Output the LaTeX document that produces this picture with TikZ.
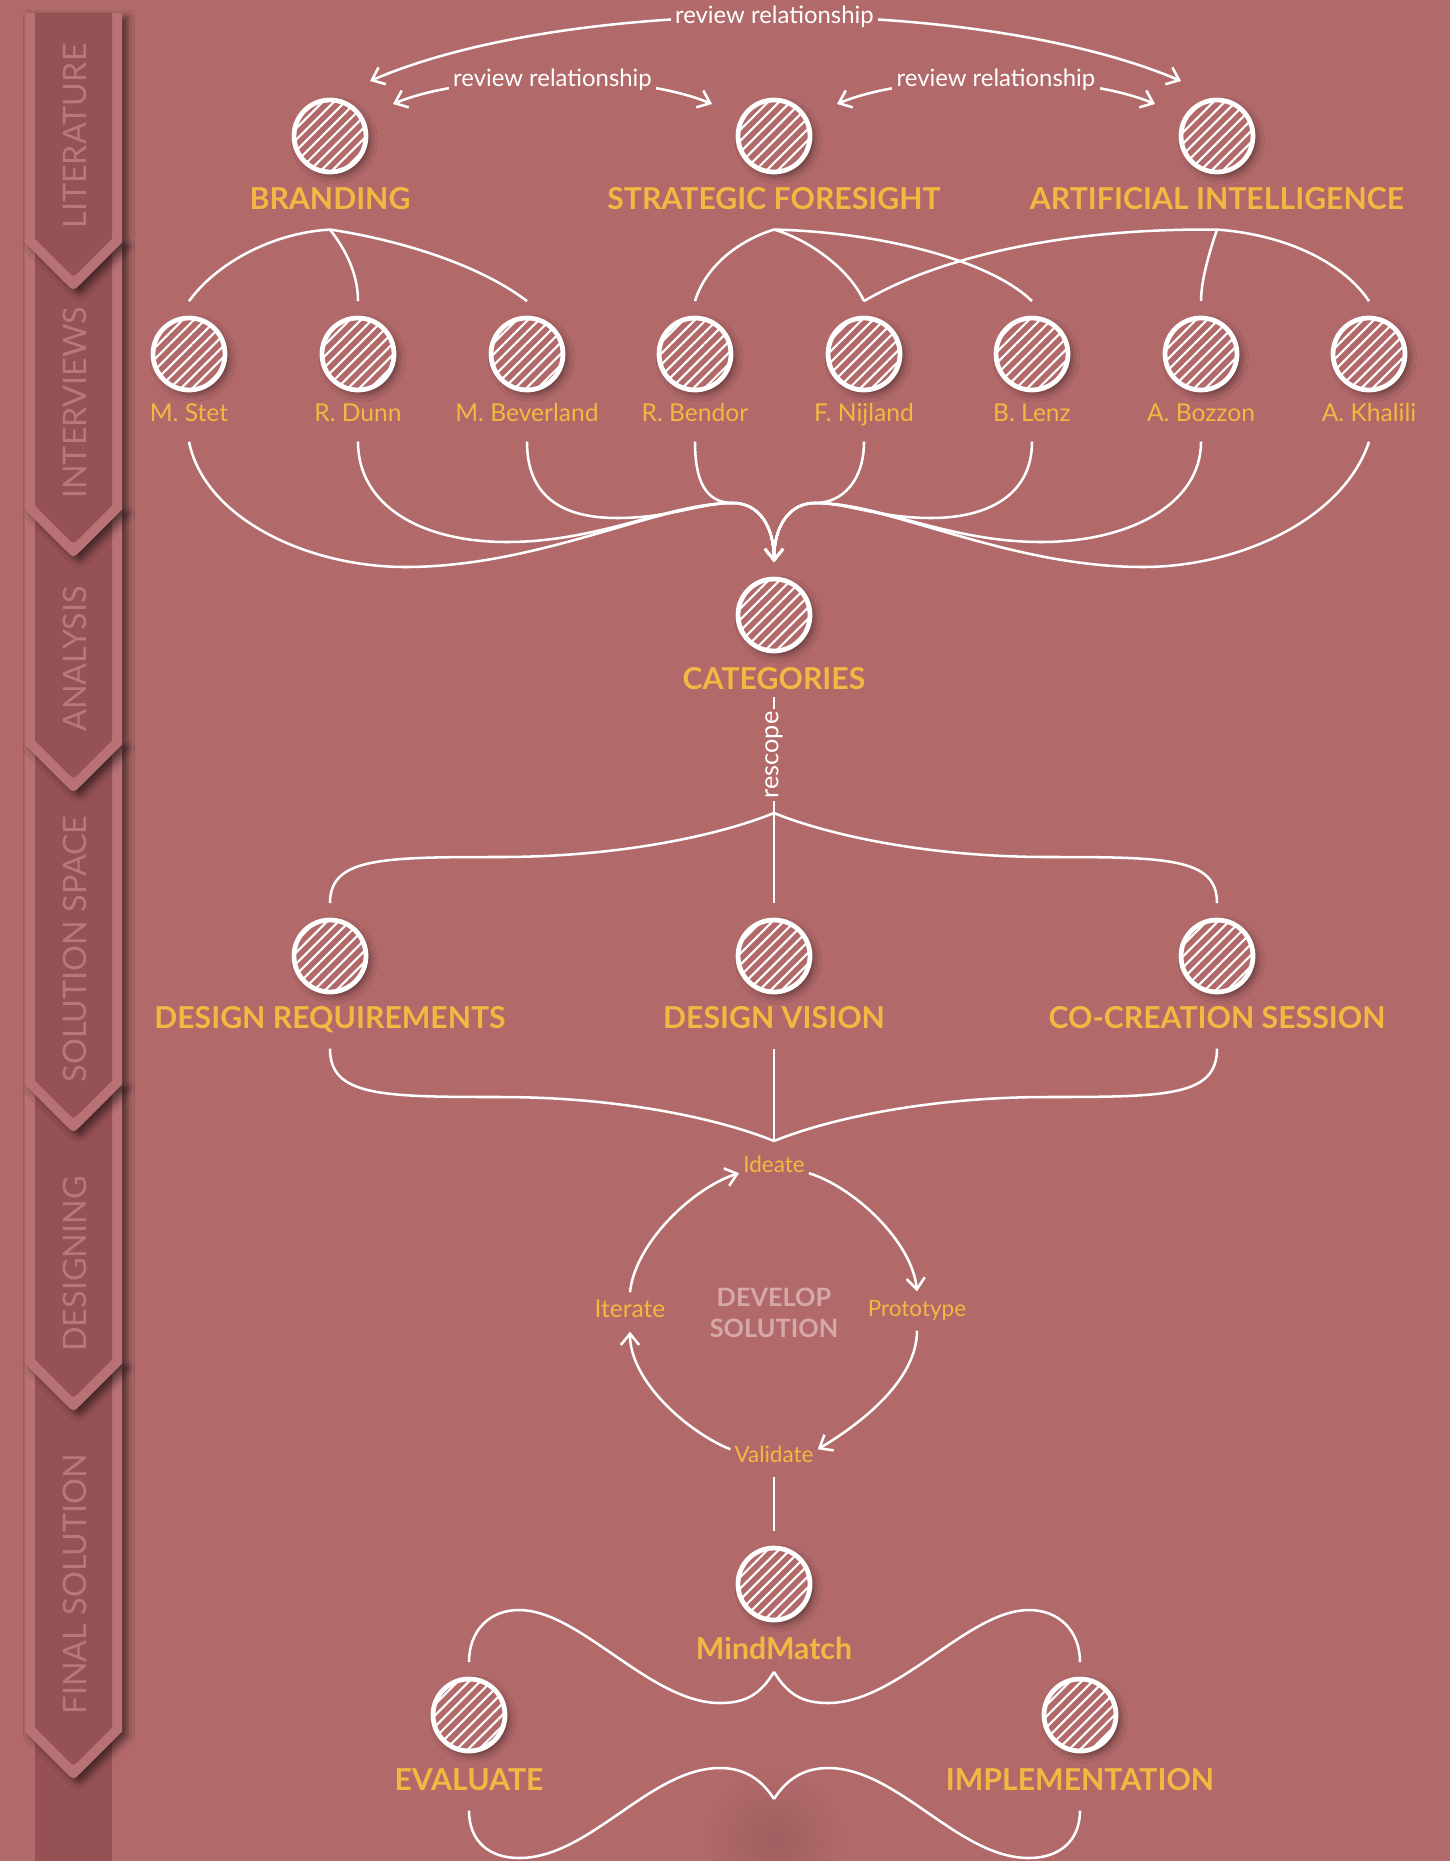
\documentclass[tikz,border=0pt]{standalone}
\usepackage{fontspec}
\setmainfont{Lato}
\usetikzlibrary{arrows.meta, calc, patterns.meta, shadows.blur}
\definecolor{rosebg}{RGB}{177,105,106}
\definecolor{gold}{RGB}{244,184,66}
\definecolor{railfill}{RGB}{150,81,84}
\definecolor{railedge}{RGB}{184,113,116}
\definecolor{railtext}{RGB}{186,118,121}
\definecolor{hubtext}{RGB}{214,168,168}

\tikzset{
  topic/.style={circle, minimum size=18mm, inner sep=0pt, outer sep=12pt,
    draw=white, line width=3.4pt,
    blur shadow={shadow xshift=3pt, shadow yshift=-3pt, shadow blur radius=5pt, shadow opacity=45},
    preaction={fill=rosebg},
    pattern={Lines[angle=45, distance=5.6pt, line width=1.5pt]}, pattern color=white},
  headline/.style={text=gold, font=\bfseries\fontsize{21.5}{24}\selectfont,
    inner sep=0pt, text height=15.5pt, text depth=0pt, outer ysep=14pt},
  person/.style={text=gold, font=\fontsize{17.5}{20}\selectfont,
    inner sep=0pt, text height=13pt, text depth=4pt, outer ysep=10.5pt},
  phase/.style={text=gold, font=\fontsize{16}{19}\selectfont,
    inner sep=0pt, text height=11.5pt, text depth=3.5pt, outer xsep=3pt, outer ysep=6.5pt},
  hub/.style={text=hubtext, font=\bfseries\fontsize{18}{22.5}\selectfont, align=center, inner sep=0pt},
  review/.style={fill=rosebg, text=white, font=\fontsize{17}{20}\selectfont, inner sep=3pt},
  link/.style={draw=white, line width=1.8pt},
  into/.style={-{Straight Barb[length=8pt, width=13pt]}},
  both/.style={{Straight Barb[length=8pt, width=13pt]}-{Straight Barb[length=8pt, width=13pt]}},
}

\begin{document}
\begin{tikzpicture}[x=0.25mm, y=-0.25mm]
  \fill[rosebg] (0,0) rectangle (1450,1861);
  \useasboundingbox (0,0) rectangle (1450,1861);

  % stage rail on the left, drawn bottom-up so each arrow overlaps the next
  \fill[railfill] (35,1730) rectangle (112,1861);
  \foreach \n/\ya/\yb/\lbl/\yc in {
    6/1363/1780/{FINAL SOLUTION}/1584,
    5/1084/1412/{DESIGNING}/1264,
    4/744/1133/{SOLUTION SPACE}/949,
    3/509/793/{ANALYSIS}/659,
    2/242/558/{INTERVIEWS}/403,
    1/13/291/{LITERATURE}/136
  } {
    \fill[railedge, blur shadow={shadow xshift=4pt, shadow yshift=-3pt, shadow blur radius=5pt, shadow opacity=55}]
      (25,\ya) -- (122,\ya) -- (122,\yb-48.5) -- (81,\yb-7.5) .. controls (73.5,\yb) .. (66,\yb-7.5) -- (25,\yb-48.5) -- cycle;
    \fill[railfill] (35,\ya) -- (112,\ya) -- (112,\yb-52.5) -- (79,\yb-19.5) .. controls (73.5,\yb-14) .. (68,\yb-19.5) -- (35,\yb-52.5) -- cycle;
    \node[rotate=90, text=railtext, font=\fontsize{23}{26}\selectfont, inner sep=0pt] (stage\n) at (75,\yc) {\lbl};
  }

  % literature
  \node[topic] (branding) at (330,136) {};
  \node[headline] (branding-l) at (330,199) {BRANDING};
  \node[topic] (foresight) at (774,136) {};
  \node[headline] (foresight-l) at (774,199) {STRATEGIC FORESIGHT};
  \node[topic] (ai) at (1217,136) {};
  \node[headline] (ai-l) at (1217,199) {ARTIFICIAL INTELLIGENCE};

  \draw[link, both] ($(branding)+(40,-55)$) .. controls (570,-5) and (978,-5) .. ($(ai)+(-36,-55)$)
    node[review, pos=0.5] (rev-outer) {review relationship};
  \draw[link, both] ($(branding)+(63,-32)$) .. controls (470,72) and (635,72) .. ($(foresight)+(-62,-32)$)
    node[review, pos=0.5] (rev-left) {review relationship};
  \draw[link, both] ($(foresight)+(63,-32)$) .. controls (914,72) and (1078,72) .. ($(ai)+(-62,-32)$)
    node[review, pos=0.5] (rev-right) {review relationship};

  % interviews
  \foreach \k/\x/\who in {stet/189/M. Stet, dunn/358/R. Dunn, beverland/527/M. Beverland,
      bendor/695/R. Bendor, nijland/864/F. Nijland, lenz/1032/B. Lenz,
      bozzon/1201/A. Bozzon, khalili/1369/A. Khalili} {
    \node[topic] (\k) at (\x,354) {};
    \node[person] (\k-l) at (\x,415) {\who};
  }

  \draw[link] (branding-l.south) .. controls (270,233) and (215,265) .. (stet.north);
  \draw[link] (branding-l.south) .. controls (342,245) and (358,270) .. (dunn.north);
  \draw[link] (branding-l.south) .. controls (400,240) and (480,265) .. (beverland.north);
  \draw[link] (foresight-l.south) .. controls (740,240) and (706,265) .. (bendor.north);
  \draw[link] (foresight-l.south) .. controls (810,240) and (850,270) .. (nijland.north);
  \draw[link] (foresight-l.south) .. controls (880,232) and (990,260) .. (lenz.north);
  \draw[link] (ai-l.south) .. controls (1050,228) and (930,262) .. (nijland.north);
  \draw[link] (ai-l.south) .. controls (1210,250) and (1201,280) .. (bozzon.north);
  \draw[link] (ai-l.south) .. controls (1290,235) and (1345,265) .. (khalili.north);

  % analysis
  \node[topic] (categories) at (774,615) {};
  \node[headline, outer ysep=5pt] (categories-l) at (774,679) {CATEGORIES};

  \draw[link, into] (stet-l.south) .. controls (205,520) and (310,567) .. (405,567)
    .. controls (540,567) and (660,503) .. (733,503) .. controls (758,503) and (774,525) .. (categories.north);
  \draw[link, into] (dunn-l.south) .. controls (358,505) and (420,542) .. (507,542)
    .. controls (600,542) and (670,503) .. (733,503) .. controls (758,503) and (774,525) .. (categories.north);
  \draw[link, into] (beverland-l.south) .. controls (527,495) and (560,518) .. (617,518)
    .. controls (670,518) and (700,503) .. (733,503) .. controls (758,503) and (774,525) .. (categories.north);
  \draw[link, into] (bendor-l.south) .. controls (695,480) and (705,503) .. (733,503)
    .. controls (758,503) and (774,525) .. (categories.north);
  \draw[link, into] (nijland-l.south) .. controls (864,480) and (843,503) .. (815,503)
    .. controls (790,503) and (774,525) .. (categories.north);
  \draw[link, into] (lenz-l.south) .. controls (1032,495) and (988,518) .. (931,518)
    .. controls (878,518) and (848,503) .. (815,503) .. controls (790,503) and (774,525) .. (categories.north);
  \draw[link, into] (bozzon-l.south) .. controls (1201,505) and (1128,542) .. (1041,542)
    .. controls (948,542) and (878,503) .. (815,503) .. controls (790,503) and (774,525) .. (categories.north);
  \draw[link, into] (khalili-l.south) .. controls (1343,520) and (1238,567) .. (1143,567)
    .. controls (1008,567) and (888,503) .. (815,503) .. controls (790,503) and (774,525) .. (categories.north);

  % solution space
  \node[topic] (requirements) at (330,956) {};
  \node[headline] (requirements-l) at (330,1018) {DESIGN REQUIREMENTS};
  \node[topic] (vision) at (774,956) {};
  \node[headline] (vision-l) at (774,1018) {DESIGN VISION};
  \node[topic] (cocreation) at (1217,956) {};
  \node[headline] (cocreation-l) at (1217,1018) {CO-CREATION SESSION};

  \coordinate (rescope) at (774,813);
  \draw[link] (categories-l.south) -- node[review, rotate=90, font=\fontsize{18}{20}\selectfont, inner sep=2pt] (rescope-l) {rescope} (rescope) -- (vision.north);
  \draw[link] (rescope) .. controls (720,835) and (620,857) .. (500,857) .. controls (380,857) and (330,858) .. (requirements.north);
  \draw[link] (rescope) .. controls (828,835) and (928,857) .. (1048,857) .. controls (1168,857) and (1217,858) .. (cocreation.north);

  \coordinate (merge) at (774,1141);
  \draw[link] (requirements-l.south) .. controls (330,1096) and (380,1097) .. (500,1097) .. controls (620,1097) and (720,1119) .. (merge);
  \draw[link] (vision-l.south) -- (merge);
  \draw[link] (cocreation-l.south) .. controls (1217,1096) and (1168,1097) .. (1048,1097) .. controls (928,1097) and (828,1119) .. (merge);

  % designing
  \node[phase] (ideate) at (774,1167) {Ideate};
  \node[phase] (prototype) at (917,1311) {Prototype};
  \node[phase] (validate) at (774,1457) {Validate};
  \node[phase, font=\fontsize{17.5}{19}\selectfont] (iterate) at (630,1312) {Iterate};
  \node[hub] (develop) at (774,1313) {DEVELOP\\SOLUTION};

  \draw[link, into] (iterate.north) .. controls +(5,-50) and +(-45,14) .. (ideate.190);
  \draw[link, into] (ideate.350) .. controls +(45,14) and +(-5,-50) .. (prototype.north);
  \draw[link, into] (prototype.south) .. controls +(0,50) and +(42,-25) .. (validate.10);
  \draw[link, into] (validate.170) .. controls +(-42,-17) and +(0,50) .. (iterate.south);

  % final solution
  \node[topic] (mindmatch) at (774,1584) {};
  \node[headline, outer ysep=8.5pt] (mindmatch-l) at (774,1649) {MindMatch};
  \draw[link] (validate.south) -- (mindmatch.north);

  \node[topic] (evaluate) at (469,1715) {};
  \node[headline] (evaluate-l) at (469,1780) {EVALUATE};
  \node[topic] (implementation) at (1080,1715) {};
  \node[headline] (implementation-l) at (1080,1780) {IMPLEMENTATION};

  \draw[link] (mindmatch-l.south) .. controls (760,1695) and (745,1703) .. (720,1703)
    .. controls (650,1703) and (580,1610) .. (519,1610) .. controls (490,1610) and (469,1630) .. (evaluate.north);
  \draw[link] (mindmatch-l.south) .. controls (788,1695) and (803,1703) .. (828,1703)
    .. controls (898,1703) and (968,1610) .. (1029,1610) .. controls (1058,1610) and (1080,1630) .. (implementation.north);

  \shade[inner color=rosebg!90!black, outer color=rosebg] (774,1840) circle (70);
  \coordinate (handoff) at (774,1799);
  \draw[link] (evaluate-l.south) .. controls (469,1842) and (490,1858) .. (519,1858)
    .. controls (590,1858) and (650,1768) .. (720,1768) .. controls (745,1768) and (762,1780) .. (handoff);
  \draw[link] (implementation-l.south) .. controls (1080,1842) and (1058,1858) .. (1029,1858)
    .. controls (958,1858) and (898,1768) .. (828,1768) .. controls (803,1768) and (786,1780) .. (handoff);
\end{tikzpicture}
\end{document}
